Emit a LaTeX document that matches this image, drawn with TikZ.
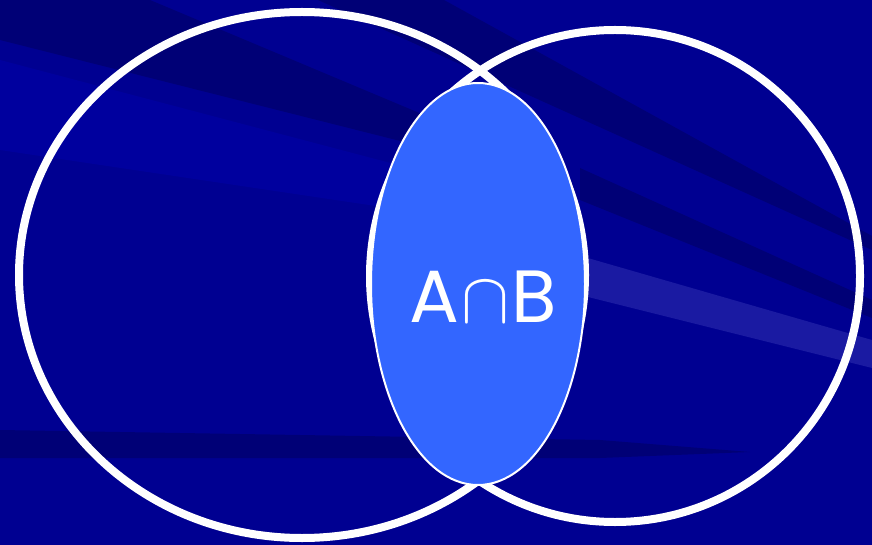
\documentclass[tikz,border=0pt]{standalone}
\usepackage{fontspec}
\setmainfont{Poppins}
\usetikzlibrary{positioning}
\definecolor{Navy}{HTML}{000091}
\definecolor{NavyDark}{HTML}{000076}
\definecolor{NavyLight}{HTML}{00009E}
\definecolor{NavyPale}{HTML}{1A1AA2}
\definecolor{Cornflower}{HTML}{3366FF}

\begin{document}
\begin{tikzpicture}[x=1pt,y=-1pt,
    setline/.style={draw=white,line width=8pt},
    meetset/.style={fill=Cornflower,draw=white,line width=2pt},
    setlabel/.style={text=white,font=\fontsize{74}{74}\selectfont,inner sep=0pt,anchor=base}]
        \useasboundingbox (0,0) rectangle (872,545);
        % background with streaks
        \fill[Navy] (0,0) rectangle (872,545);
        \fill[NavyLight] (0,60)--(0,150)--(436,215)--(436,175)--cycle;
        \fill[NavyDark] (0,0)--(150,0)--(436,120)--(436,150)--(0,40)--cycle;
        \fill[NavyDark] (318,0)--(444,0)--(872,236)--(872,250)--cycle;
        \fill[NavyDark] (580,168)--(872,300)--(872,318)--(580,200)--cycle;
        \fill[NavyPale] (560,250)--(872,340)--(872,368)--(560,290)--cycle;
        \fill[NavyDark] (0,430)--(600,440)--(750,452)--(600,458)--(0,458)--cycle;

        % the two sets
        \draw[setline] (302,275) ellipse [x radius=283,y radius=263];
        \draw[setline] (615,276) ellipse [x radius=245,y radius=246];
        % their intersection
        \draw[meetset] (478,284) ellipse [x radius=107,y radius=201];
        \node[setlabel] (meet) at (483,322)
          {A\kern2pt\scalebox{2.9}{$\cap$}\kern2pt B};
      \end{tikzpicture}
\end{document}
